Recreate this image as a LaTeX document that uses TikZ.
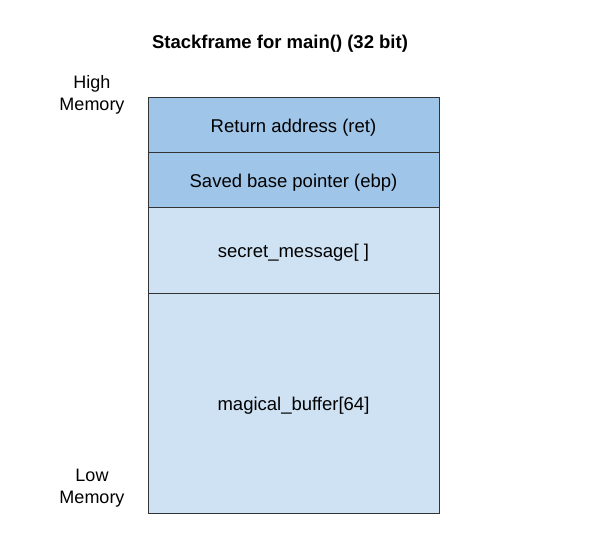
\documentclass[tikz,border=0pt]{standalone}
\usepackage{fontspec}
\setmainfont{Liberation Sans}
\usepackage{xcolor}
\usetikzlibrary{positioning}
\tikzset{
	slot/.style = {draw=black!80, line width=0.8pt, minimum width=291pt, inner sep=0pt, outer sep=0pt, text height=18pt, text depth=3pt, font=\fontsize{18.5}{22}\selectfont, anchor=north},
	hislot/.style = {slot, fill=stackdark},
	loslot/.style = {slot, fill=stacklight},
	memlabel/.style = {align=center, font=\fontsize{18}{21.5}\selectfont},
}
\definecolor{stackdark}{HTML}{9FC5E8}
\definecolor{stacklight}{HTML}{CFE2F3}

\begin{document}
\begin{tikzpicture}[x=1pt, y=-1pt]
	\useasboundingbox (0,0) rectangle (589,549);

	\node[font=\fontsize{18.5}{22}\selectfont\bfseries] (title) at (280,44) {Stackframe for main() (32 bit)};

	\node[hislot, minimum height=55pt] (ret) at (293.5,97) {Return address (ret)};
	\node[hislot, minimum height=55pt, below=0pt of ret] (ebp) {Saved base pointer (ebp)};
	\node[loslot, minimum height=86pt, below=0pt of ebp] (secret) {secret\_message[ ]};
	\node[loslot, minimum height=220pt, below=0pt of secret] (buffer) {magical\_buffer[64]};

	\node[memlabel] (high) at (92,95) {High\\Memory};
	\node[memlabel] (low) at (92,488) {Low\\Memory};
\end{tikzpicture}
\end{document}
